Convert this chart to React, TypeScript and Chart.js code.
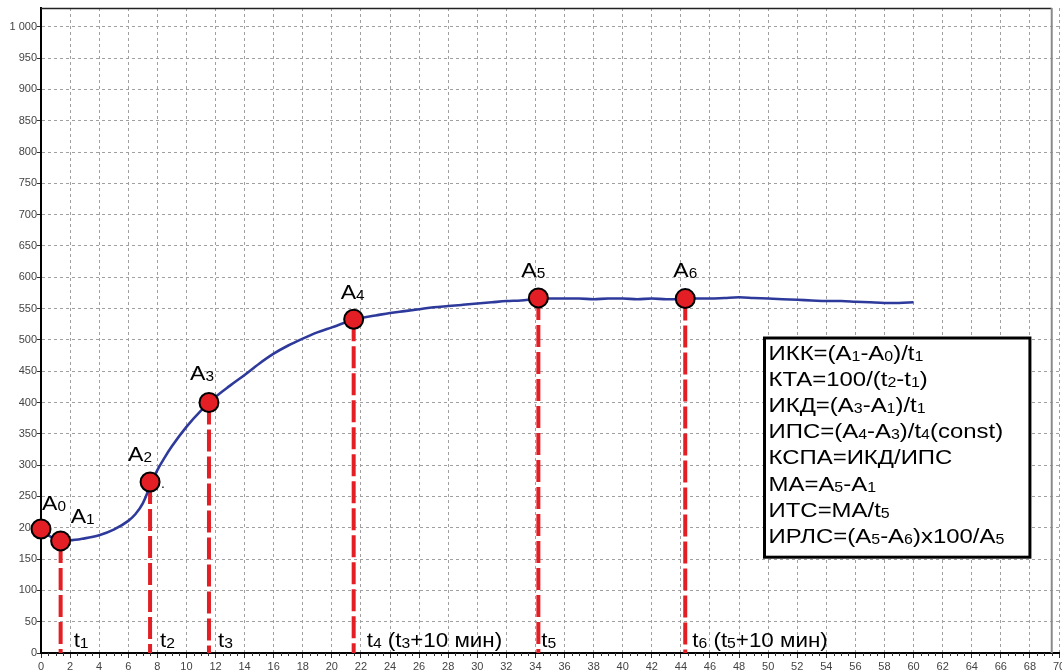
import React, { useEffect, useRef } from "react";
import { Chart, registerables } from "chart.js";
Chart.register(...registerables);

// ---- data ----
const curveX = [0, 0.5, 1, 1.5, 2, 3, 4, 5, 6, 6.5, 7, 7.5, 8, 8.5, 9, 10, 11, 11.6, 12, 13, 14, 15, 16, 17, 18, 19, 20, 21, 22, 23, 24, 25, 26, 27, 28, 29, 30, 31, 32, 33, 34, 35, 36, 37, 38, 39, 40, 41, 42, 43, 44, 45, 46, 47, 48, 49, 50, 51, 52, 53, 54, 55, 56, 57, 58, 59, 60];
const curveY = [198, 188, 182, 180, 180, 183, 188, 197, 211, 222, 239, 266, 292, 312, 330, 361, 387, 400, 409, 427, 444, 462, 478, 491, 502, 512, 520, 528, 535, 539, 543, 546, 549, 552, 554, 556, 558, 560, 562, 563, 565, 566, 566, 566, 565, 566, 566, 565, 566, 565, 565, 566, 566, 567, 568, 567, 566, 565, 564, 563, 562, 562, 561, 560, 559, 559, 560];

const markerNames = ["A{0}", "A{1}", "A{2}", "A{3}", "A{4}", "A{5}", "A{6}"];
const markerX = [0, 1.35, 7.5, 11.55, 21.5, 34.2, 44.3];
const markerY = [198, 179, 273, 400, 533, 567, 566];

const timeLabels = ["t{1}", "t{2}", "t{3}", "t{4} (t{3}+10 мин)", "t{5}", "t{6} (t{5}+10 мин)"];
const timeX = [1.35, 7.5, 11.55, 21.5, 34.2, 44.3];
const timeY = [179, 273, 400, 533, 567, 566];

const formulaLines = [
  "ИКК=(A{1}-A{0})/t{1}",
  "КТА=100/(t{2}-t{1})",
  "ИКД=(A{3}-A{1})/t{1}",
  "ИПС=(A{4}-A{3})/t{4}(const)",
  "КСПА=ИКД/ИПС",
  "МА=A{5}-A{1}",
  "ИТС=МА/t{5}",
  "ИРЛС=(A{5}-A{6})x100/A{5}",
];

const yTickValues = [0, 50, 100, 150, 200, 250, 300, 350, 400, 450, 500, 550, 600, 650, 700, 750, 800, 850, 900, 950, 1000];
const xTickValues = [0, 2, 4, 6, 8, 10, 12, 14, 16, 18, 20, 22, 24, 26, 28, 30, 32, 34, 36, 38, 40, 42, 44, 46, 48, 50, 52, 54, 56, 58, 60, 62, 64, 66, 68, 70];

// ---- styling / layout (not data) ----
const FONT = '"Liberation Sans", Arial, sans-serif';
const RED = "#E31E24";
const BLUE = "#2E3A9B";
const markerLabelOffset = [[1, -19], [10, -18], [-22, -21], [-19, -23], [-13, -20], [-17, -21], [-12, -22]];
const timeLabelDx = [13, 10, 9, 13, 3, 7];
const boxRange = { x0: 49.75, x1: 68.0, y0: 503, y1: 153 };

function drawRich(ctx: CanvasRenderingContext2D, text: string, x: number, y: number, size: number, subSize: number, stretch: number) {
  ctx.save();
  ctx.translate(x, y);
  ctx.scale(stretch, 1);
  ctx.textAlign = "left";
  ctx.textBaseline = "alphabetic";
  ctx.fillStyle = "#000";
  let cx = 0;
  const re = /\{([^}]*)\}|[^{]+/g;
  let m: RegExpExecArray | null;
  while ((m = re.exec(text)) !== null) {
    const sub = m[1] !== undefined;
    const t = sub ? m[1] : m[0];
    ctx.font = `${sub ? subSize : size}px ${FONT}`;
    ctx.fillText(t, cx, sub ? 1 : 0);
    cx += ctx.measureText(t).width;
  }
  ctx.restore();
}

const overlay = {
  id: "overlay",
  afterDatasetsDraw(chart: any) {
    const { ctx, chartArea, scales } = chart;
    const xs = scales.x;
    const ys = scales.y;
    ctx.save();
    const rx = xs.getPixelForValue(69.5);
    // top frame
    ctx.strokeStyle = "#222";
    ctx.lineWidth = 1.5;
    ctx.beginPath();
    ctx.moveTo(chartArea.left, chartArea.top + 0.5);
    ctx.lineTo(rx, chartArea.top + 0.5);
    ctx.stroke();
    // right grey frame
    ctx.strokeStyle = "#8a8a8a";
    ctx.lineWidth = 2;
    ctx.beginPath();
    ctx.moveTo(rx, chartArea.top);
    ctx.lineTo(rx, chartArea.bottom);
    ctx.stroke();
    // minor ticks on x axis
    ctx.strokeStyle = "#333";
    ctx.lineWidth = 1;
    for (let v = 0.5; v < 70; v += 0.5) {
      if (Math.abs(v % 2) < 1e-6) continue;
      const px = Math.round(xs.getPixelForValue(v)) + 0.5;
      ctx.beginPath();
      ctx.moveTo(px, chartArea.bottom);
      ctx.lineTo(px, chartArea.bottom + 3);
      ctx.stroke();
    }
    ctx.restore();

    // marker labels
    markerNames.forEach((name, i) => {
      const px = xs.getPixelForValue(markerX[i]);
      const py = ys.getPixelForValue(markerY[i]);
      drawRich(ctx, name, px + markerLabelOffset[i][0], py + markerLabelOffset[i][1], 21, 14, 1.1);
    });
    // small dot near A2
    {
      const px = xs.getPixelForValue(markerX[2]);
      const py = ys.getPixelForValue(markerY[2]);
      drawRich(ctx, ".", px + 11, py + 6, 14, 10, 1);
    }
    // time labels
    const baseY = ys.getPixelForValue(0) - 6;
    timeLabels.forEach((t, i) => {
      const px = xs.getPixelForValue(timeX[i]);
      drawRich(ctx, t, px + timeLabelDx[i], baseY, 20, 14, 1.12);
    });

    // formula box
    const bx0 = xs.getPixelForValue(boxRange.x0);
    const bx1 = xs.getPixelForValue(boxRange.x1);
    const by0 = ys.getPixelForValue(boxRange.y0);
    const by1 = ys.getPixelForValue(boxRange.y1);
    ctx.save();
    ctx.fillStyle = "#fff";
    ctx.fillRect(bx0, by0, bx1 - bx0, by1 - by0);
    ctx.strokeStyle = "#000";
    ctx.lineWidth = 3;
    ctx.strokeRect(bx0, by0, bx1 - bx0, by1 - by0);
    ctx.restore();
    formulaLines.forEach((line, i) => {
      drawRich(ctx, line, bx0 + 4, by0 + 22 + i * 26.1, 21, 14, 1.14);
    });
  },
};

export default function App() {
  const ref = useRef<HTMLCanvasElement | null>(null);
  useEffect(() => {
    document.body.style.margin = "0";
    const canvas = ref.current;
    if (!canvas) return;
    const curve = curveX.map((x, i) => ({ x, y: curveY[i] }));
    const markers = markerX.map((x, i) => ({ x, y: markerY[i] }));
    const dashSets = timeX.map((x, i) => ({
      type: "line" as const,
      data: [{ x, y: timeY[i] }, { x, y: 0 }],
      borderColor: RED,
      borderWidth: 4,
      borderDash: [22, 5],
      pointRadius: 0,
      fill: false,
      order: 3,
    }));
    const chart = new Chart(canvas, {
      type: "scatter",
      data: {
        datasets: [
          ...dashSets,
          {
            type: "line",
            data: curve,
            borderColor: BLUE,
            borderWidth: 2.6,
            pointRadius: 0,
            cubicInterpolationMode: "monotone",
            fill: false,
            order: 2,
          } as any,
          {
            type: "scatter",
            data: markers,
            pointRadius: 9.5,
            pointHoverRadius: 9.5,
            backgroundColor: RED,
            borderColor: "#000",
            borderWidth: 2,
            clip: false,
            order: 1,
          } as any,
        ],
      },
      options: {
        responsive: false,
        animation: false,
        events: [],
        layout: { autoPadding: false, padding: { top: 8, right: 3, left: 0, bottom: 0 } },
        plugins: { legend: { display: false }, tooltip: { enabled: false }, title: { display: false } },
        scales: {
          x: {
            type: "linear",
            min: 0,
            max: 70,
            afterBuildTicks: (s: any) => {
              s.ticks = xTickValues.map((v) => ({ value: v }));
            },
            afterFit: (s: any) => {
              s.height = 18;
              s.paddingLeft = 0;
              s.paddingRight = 0;
            },
            ticks: {
              autoSkip: false,
              maxRotation: 0,
              padding: 2,
              color: "#444",
              font: { family: FONT, size: 11 },
              callback: (v: any) => String(v),
            },
            grid: {
              color: "#a0a0a0",
              lineWidth: 1,
              tickLength: 5,
              tickColor: "#333",
              tickBorderDash: [],
            },
            border: { display: true, color: "#000", width: 2, dash: [3, 3] },
          },
          y: {
            type: "linear",
            min: 0,
            max: 1030,
            afterBuildTicks: (s: any) => {
              s.ticks = yTickValues.map((v) => ({ value: v }));
            },
            afterFit: (s: any) => {
              s.width = 41;
              s.paddingTop = 0;
              s.paddingBottom = 0;
            },
            ticks: {
              padding: 0,
              color: "#444",
              font: { family: FONT, size: 11 },
              callback: (v: any) => (v >= 1000 ? Math.floor(v / 1000) + " " + String(v % 1000).padStart(3, "0") : String(v)),
            },
            grid: {
              color: "#a0a0a0",
              lineWidth: 1,
              tickLength: 4,
              tickColor: "#333",
              tickBorderDash: [],
            },
            border: { display: true, color: "#000", width: 2, dash: [3, 3] },
          },
        },
      },
      plugins: [overlay],
    });
    return () => chart.destroy();
  }, []);
  return (
    <div style={{ position: "fixed", left: 0, top: 0, width: 1062, height: 671, background: "#fff", overflow: "hidden" }}>
      <canvas ref={ref} width={1062} height={671} />
    </div>
  );
}
